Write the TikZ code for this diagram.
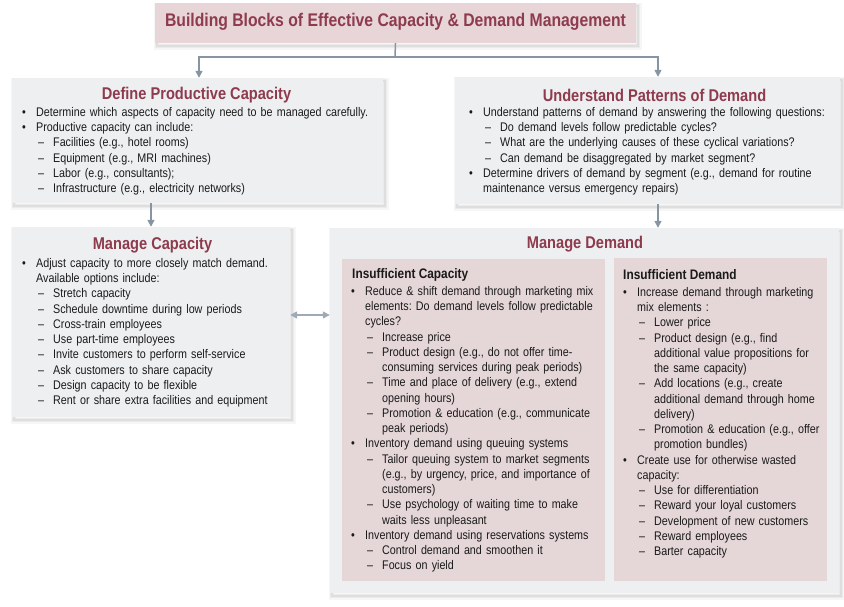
\documentclass[tikz,border=0pt]{standalone}
\usepackage{fontspec}
\setmainfont{Liberation Sans}[FakeStretch=0.86]
\usetikzlibrary{arrows.meta,calc}
\frenchspacing
\definecolor{titlered}{HTML}{8E3B4E}
\definecolor{pinkfill}{HTML}{E7D5D8}
\definecolor{grayfill}{HTML}{EEEFF1}
\definecolor{innerpink}{HTML}{E5D6D8}
\definecolor{arrowgray}{HTML}{8795A2}
\definecolor{textcol}{HTML}{1A1A1A}
\newcommand{\itB}[1]{\par\noindent\rule{0pt}{9pt}\makebox[14pt][l]{\textbullet}#1}
\newcommand{\itBc}[1]{\par\noindent\rule{0pt}{9pt}\hspace*{14pt}#1}
\newcommand{\itD}[1]{\par\noindent\rule{0pt}{9pt}\hspace*{16pt}\makebox[15pt][l]{–}#1}
\newcommand{\itDc}[1]{\par\noindent\rule{0pt}{9pt}\hspace*{31pt}#1}
\tikzset{
  softshadow/.style={
    preaction={draw=black, draw opacity=0.035, line width=7pt, transform canvas={xshift=2pt,yshift=-3pt}},
    preaction={draw=black, draw opacity=0.045, line width=4.5pt, transform canvas={xshift=2pt,yshift=-3pt}},
    preaction={draw=black, draw opacity=0.055, line width=2.5pt, transform canvas={xshift=2pt,yshift=-3pt}}},
  graybox/.style={draw=none, fill=grayfill, inner sep=0, softshadow},
  titlebox/.style={draw=none, fill=pinkfill, inner sep=0, softshadow},
  pinkbox/.style={draw=none, fill=innerpink, inner sep=0},
  boxhead/.style={font=\fontsize{17pt}{20pt}\selectfont\bfseries, text=titlered, inner sep=0},
  subhead/.style={font=\fontsize{13.8pt}{16pt}\selectfont\bfseries, text=textcol, inner sep=0, anchor=west},
  body/.style={anchor=north west, inner sep=0, text width=420pt, text=textcol, font=\fontsize{12.5pt}{15.25pt}\selectfont, align=left},
  conn/.style={draw=arrowgray, line width=1.5pt},
  arr/.style={conn, -{Triangle[length=7pt,width=7pt]}},
  darr/.style={draw=arrowgray!80, line width=1.5pt, {Triangle[length=7pt,width=7pt]}-{Triangle[length=7pt,width=7pt]}}
}
\begin{document}
\begin{tikzpicture}[x=1pt,y=-1pt]
\useasboundingbox (0,0) rectangle (844,606);
% boxes
\node[titlebox, minimum width=481pt, minimum height=40pt] (title) at (395.5,23) {};
\node[graybox, minimum width=371pt, minimum height=125pt] (define) at (197.5,140.5) {};
\node[graybox, minimum width=385pt, minimum height=127pt] (understand) at (647.5,140.5) {};
\node[graybox, minimum width=278pt, minimum height=190pt] (capacity) at (151,322) {};
\node[graybox, minimum width=509pt, minimum height=365pt] (demand) at (584.5,410.5) {};
\node[pinkbox, minimum width=263pt, minimum height=322pt] (innerL) at (473.5,420) {};
\node[pinkbox, minimum width=213pt, minimum height=323pt] (innerR) at (720.5,419.5) {};
% headings
\node[boxhead, font=\fontsize{18.3pt}{21pt}\selectfont\bfseries] (titletext) at (395.5,22) {Building Blocks of Effective Capacity \& Demand Management};
\node[boxhead] (defhead) at (196.5,95) {Define Productive Capacity};
\node[boxhead] (undhead) at (654.5,95) {Understand Patterns of Demand};
\node[boxhead] (caphead) at (152.5,245) {Manage Capacity};
\node[boxhead] (demhead) at (585,244) {Manage Demand};
\node[subhead] (inscap) at (352,275) {Insufficient Capacity};
\node[subhead] (insdem) at (623,275) {Insufficient Demand};
% body texts
\node[body] (deftext) at (22,101) {%
\itB{Determine which aspects of capacity need to be managed carefully.}
\itB{Productive capacity can include:}
\itD{Facilities (e.g., hotel rooms)}
\itD{Equipment (e.g., MRI machines)}
\itD{Labor (e.g., consultants);}
\itD{Infrastructure (e.g., electricity networks)}};
\node[body] (undtext) at (469,101) {%
\itB{Understand patterns of demand by answering the following questions:}
\itD{Do demand levels follow predictable cycles?}
\itD{What are the underlying causes of these cyclical variations?}
\itD{Can demand be disaggregated by market segment?}
\itB{Determine drivers of demand by segment (e.g., demand for routine}
\itBc{maintenance versus emergency repairs)}};
\node[body] (captext) at (22,252) {%
\itB{Adjust capacity to more closely match demand.}
\itBc{Available options include:}
\itD{Stretch capacity}
\itD{Schedule downtime during low periods}
\itD{Cross-train employees}
\itD{Use part-time employees}
\itD{Invite customers to perform self-service}
\itD{Ask customers to share capacity}
\itD{Design capacity to be flexible}
\itD{Rent or share extra facilities and equipment}};
\node[body] (ltext) at (351,280) {%
\itB{Reduce \& shift demand through marketing mix}
\itBc{elements: Do demand levels follow predictable}
\itBc{cycles?}
\itD{Increase price}
\itD{Product design (e.g., do not offer time-}
\itDc{consuming services during peak periods)}
\itD{Time and place of delivery (e.g., extend}
\itDc{opening hours)}
\itD{Promotion \& education (e.g., communicate}
\itDc{peak periods)}
\itB{Inventory demand using queuing systems}
\itD{Tailor queuing system to market segments}
\itDc{(e.g., by urgency, price, and importance of}
\itDc{customers)}
\itD{Use psychology of waiting time to make}
\itDc{waits less unpleasant}
\itB{Inventory demand using reservations systems}
\itD{Control demand and smoothen it}
\itD{Focus on yield}};
\node[body] (rtext) at (623,281) {%
\itB{Increase demand through marketing}
\itBc{mix elements :}
\itD{Lower price}
\itD{Product design (e.g., find}
\itDc{additional value propositions for}
\itDc{the same capacity)}
\itD{Add locations (e.g., create}
\itDc{additional demand through home}
\itDc{delivery)}
\itD{Promotion \& education (e.g., offer}
\itDc{promotion bundles)}
\itB{Create use for otherwise wasted}
\itBc{capacity:}
\itD{Use for differentiation}
\itD{Reward your loyal customers}
\itD{Development of new customers}
\itD{Reward employees}
\itD{Barter capacity}};
% connectors
\coordinate (j) at (395,57);
\draw[conn] (title.south) -- (j);
\draw[arr] (j) -| ([xshift=1.5pt]define.north);
\draw[arr] (j) -| ([xshift=10.5pt]understand.north);
\draw[arr] (define.south -| capacity.north) -- (capacity.north);
\draw[arr] ([xshift=10.5pt]understand.south) -- ([xshift=10.5pt]understand.south |- demand.north);
\draw[darr] ([yshift=7pt]capacity.east) -- ([yshift=7pt]capacity.east -| demand.west);
\end{tikzpicture}
\end{document}
